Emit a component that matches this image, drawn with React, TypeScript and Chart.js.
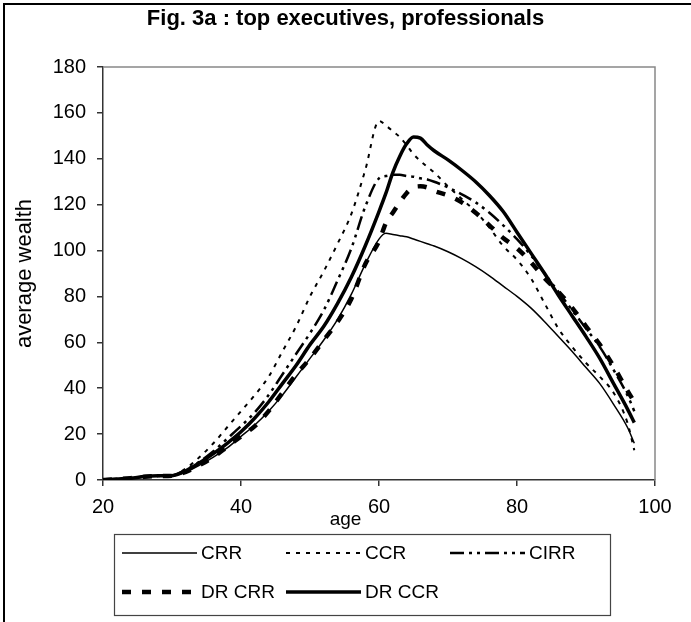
import React, { useEffect, useRef } from "react";
import { Chart, registerables } from "chart.js";

Chart.register(...registerables);

// ---- data ----
const ages = [20, 22, 24, 26, 28, 30, 32, 34, 36, 38, 40, 42, 44, 46, 48, 50, 52, 54, 56, 58, 60, 61, 62, 63, 64, 65, 66, 67, 68, 70, 72, 74, 76, 78, 80, 82, 84, 86, 88, 90, 92, 94, 96, 97];

const crr = [0, 0.4, 0.8, 1.4, 1.7, 1.8, 3.5, 6.5, 10, 14, 19, 24, 30, 37, 45, 53, 61, 70, 81, 94, 105, 107.5, 107, 106.5, 106, 105, 104, 103, 102, 99.5, 96.5, 93, 89, 84.5, 80, 75, 69, 62.5, 56, 49, 42, 33, 23, 16];

const ccr = [0, 0.4, 0.8, 1.4, 1.8, 2, 5, 10, 16, 23, 30, 37, 45, 56, 67, 80, 91, 103, 116, 135, 156.5, 154.5, 152, 149.5, 146, 142, 139, 136.5, 134, 128, 122.5, 117, 110, 102, 96, 88, 77, 66, 58, 51, 45, 38, 25, 13];

const cirr = [0, 0.4, 0.8, 1.4, 1.7, 1.9, 4.5, 8, 12.5, 18, 23.5, 29.5, 37, 46, 55, 64, 74, 87, 101, 119, 131.5, 132.5, 133, 133, 132.5, 132.2, 131.5, 131, 130, 127.5, 124.5, 121, 116.5, 111, 105, 98, 90, 82, 74, 66, 58, 48, 37, 30];

const drCrr = [0, 0.4, 0.8, 1.4, 1.7, 1.8, 3.5, 6.5, 10, 14.5, 19, 23.5, 30, 38, 46, 53, 61, 69, 79, 94, 104, 112, 116.5, 121, 125, 127.5, 128, 127.5, 126, 124, 121, 116.5, 111, 105.5, 101, 95, 88, 82, 75, 67, 59, 49.5, 39, 34];

const drCcr = [0, 0.4, 0.8, 1.5, 1.8, 1.9, 4, 7.5, 11.5, 16, 21, 27, 34, 42, 50, 59, 67, 77, 88.5, 102, 117, 125, 134, 141, 146.5, 149.5, 149, 146, 143.5, 139.5, 135, 130, 124, 117, 108, 99, 90, 80.5, 71.5, 62.5, 53, 42, 31, 25];

const seriesNames = ["CRR", "CCR", "CIRR", "DR CRR", "DR CCR"];
const xMin = 20;
const xMax = 100;
const xStep = 20;
const yMin = 0;
const yMax = 180;
const yStep = 20;

const titleText = "Fig. 3a : top executives, professionals";
const xTitle = "age";
const yTitle = "average wealth";

const FONT = '"Liberation Sans", Arial, Helvetica, sans-serif';

const styles = [
  { borderWidth: 1.5, borderDash: [] as number[] },
  { borderWidth: 2, borderDash: [4, 6] },
  { borderWidth: 2.5, borderDash: [14, 5, 3, 5, 3, 5] },
  { borderWidth: 4.5, borderDash: [9, 11] },
  { borderWidth: 3.5, borderDash: [] as number[] },
];

const decorPlugin = {
  id: "decor",
  beforeDraw(chart: any) {
    const ctx = chart.ctx;
    ctx.save();
    ctx.fillStyle = "#ffffff";
    ctx.fillRect(0, 0, chart.width, chart.height);
    ctx.fillStyle = "#000000";
    ctx.fillRect(3, 3, 2, chart.height);
    ctx.fillRect(3, 3, chart.width, 2);
    ctx.restore();
  },
  afterDraw(chart: any) {
    const ctx = chart.ctx;
    const a = chart.chartArea;
    ctx.save();
    // plot area frame (top & right)
    ctx.strokeStyle = "#888888";
    ctx.lineWidth = 1.5;
    ctx.setLineDash([]);
    ctx.beginPath();
    ctx.moveTo(a.left, a.top);
    ctx.lineTo(a.right, a.top);
    ctx.lineTo(a.right, a.bottom);
    ctx.stroke();

    // title
    ctx.fillStyle = "#000";
    ctx.textAlign = "center";
    ctx.textBaseline = "alphabetic";
    ctx.font = `bold 22px ${FONT}`;
    ctx.fillText(titleText, chart.width / 2, 25);

    // x axis title (centred on the whole chart, like the original)
    ctx.font = `19px ${FONT}`;
    ctx.fillText(xTitle, chart.width / 2, a.bottom + 45);

    // legend
    const lx = 114, ly = 534, lw = 496, lh = 81;
    ctx.strokeStyle = "#444";
    ctx.lineWidth = 1.2;
    ctx.strokeRect(lx + 0.5, ly + 0.5, lw, lh);
    ctx.textAlign = "left";
    ctx.textBaseline = "middle";
    ctx.font = `19px ${FONT}`;
    chart.data.datasets.forEach((ds: any, i: number) => {
      const col = i % 3;
      const row = Math.floor(i / 3);
      const x0 = lx + 8 + col * 164;
      const y0 = ly + 19 + row * 39;
      ctx.strokeStyle = "#000";
      ctx.lineWidth = ds.borderWidth;
      ctx.setLineDash(ds.borderDash || []);
      ctx.beginPath();
      ctx.moveTo(x0, y0);
      ctx.lineTo(x0 + 75, y0);
      ctx.stroke();
      ctx.setLineDash([]);
      ctx.fillStyle = "#000";
      ctx.fillText(ds.label, x0 + 79, y0 + 1);
    });
    ctx.restore();
  },
};

export default function App() {
  const ref = useRef<HTMLCanvasElement | null>(null);

  useEffect(() => {
    if (!ref.current) return;
    const seriesValues = [crr, ccr, cirr, drCrr, drCcr];
    const datasets = seriesValues.map((vals, i) => ({
      label: seriesNames[i],
      data: ages.map((age, k) => ({ x: age, y: vals[k] })),
      borderColor: "#000000",
      backgroundColor: "#000000",
      borderWidth: styles[i].borderWidth,
      borderDash: styles[i].borderDash,
      pointRadius: 0,
      fill: false,
      cubicInterpolationMode: "monotone" as const,
      order: 4 - i,
    }));

    const chart = new Chart(ref.current, {
      type: "line",
      data: { datasets },
      plugins: [decorPlugin],
      options: {
        animation: false,
        responsive: false,
        maintainAspectRatio: false,
        devicePixelRatio: 1,
        layout: { padding: { left: 0, top: 67, right: 36, bottom: 97 } },
        plugins: {
          legend: { display: false },
          title: { display: false },
          tooltip: { enabled: false },
        },
        scales: {
          x: {
            type: "linear",
            min: xMin,
            max: xMax,
            ticks: {
              stepSize: xStep,
              color: "#000",
              font: { size: 20, family: FONT },
              padding: 9,
              maxRotation: 0,
              autoSkip: false,
            },
            grid: {
              drawOnChartArea: false,
              drawTicks: true,
              tickLength: 6,
              color: "#333",
              lineWidth: 1.5,
            },
            border: { display: true, color: "#333", width: 1.5 },
            afterFit: (s: any) => {
              s.height = 45;
            },
          },
          y: {
            type: "linear",
            min: yMin,
            max: yMax,
            ticks: {
              stepSize: yStep,
              color: "#000",
              font: { size: 20, family: FONT },
              padding: 11,
            },
            grid: {
              drawOnChartArea: false,
              drawTicks: true,
              tickLength: 6,
              color: "#333",
              lineWidth: 1.5,
            },
            border: { display: true, color: "#333", width: 1.5 },
            title: {
              display: true,
              text: yTitle,
              color: "#000",
              font: { size: 22, family: FONT },
              padding: { top: 12, bottom: 0 },
            },
            afterFit: (s: any) => {
              s.width = 103;
            },
          },
        },
      },
    });
    return () => chart.destroy();
  }, []);

  return (
    <div style={{ position: "absolute", left: 0, top: 0, width: 691, height: 622, background: "#fff" }}>
      <canvas ref={ref} width={691} height={622} style={{ display: "block", width: 691, height: 622 }} />
    </div>
  );
}
